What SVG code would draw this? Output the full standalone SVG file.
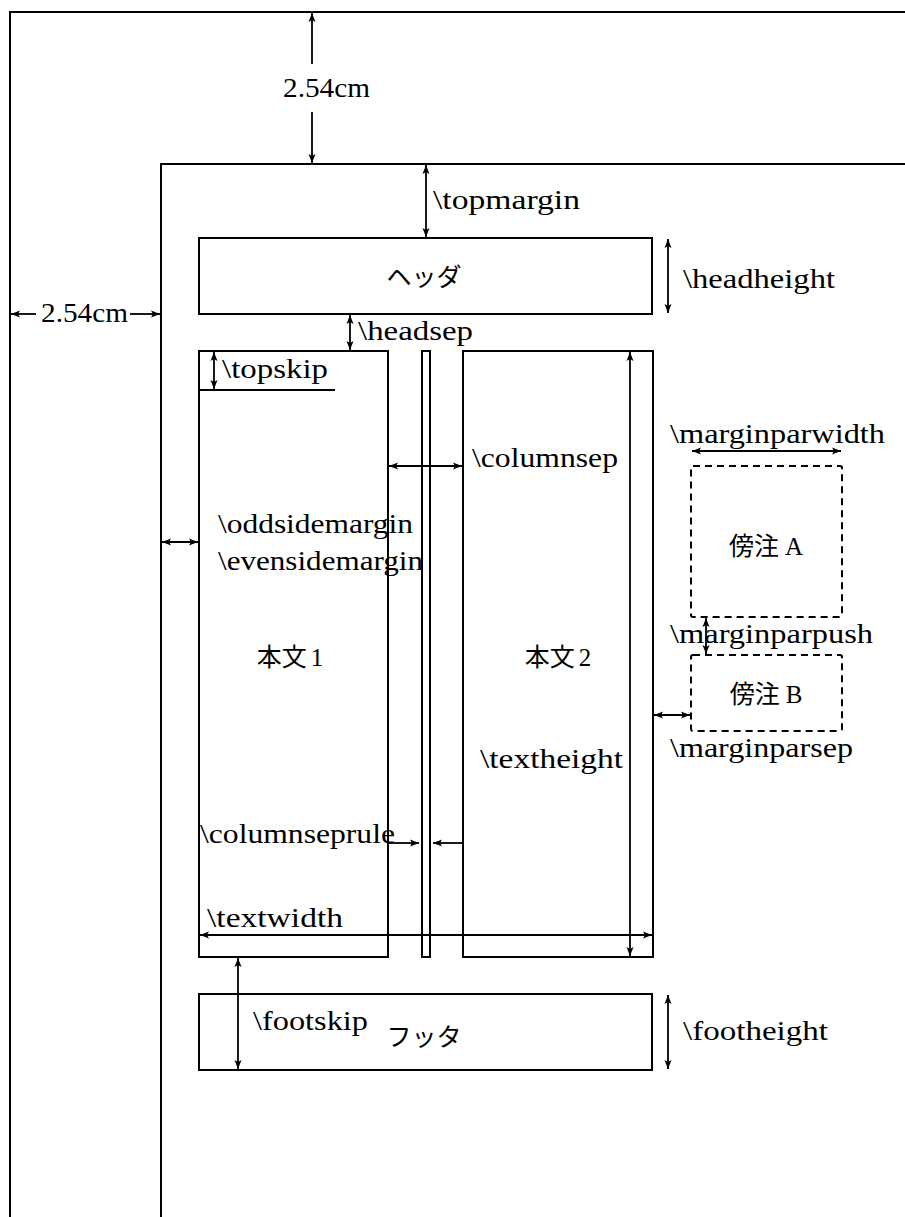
<svg xmlns="http://www.w3.org/2000/svg" width="905" height="1217" viewBox="0 0 905 1217">
<style>
.frame{fill:none;stroke:#000;stroke-width:2}
.box{fill:none;stroke:#000;stroke-width:2}
.dash{fill:none;stroke:#000;stroke-width:2;stroke-dasharray:7,5}
.arr{fill:none;stroke:#000;stroke-width:1.8;marker-start:url(#ah);marker-end:url(#ah)}
.arr1{fill:none;stroke:#000;stroke-width:1.8;marker-end:url(#ah)}
.t{font-family:"Liberation Serif","Noto Sans CJK JP",serif;font-size:28px;fill:#000}
.j{font-family:"Liberation Serif","Noto Sans CJK JP",serif;font-size:25px;fill:#000}
</style>
<defs>
<marker id="ah" markerUnits="userSpaceOnUse" markerWidth="10" markerHeight="8" refX="9" refY="4" orient="auto-start-reverse" viewBox="0 0 10 8">
<path d="M0,0.5 L9,4 L0,7.5 L2,4 z" fill="#000"/>
</marker>
</defs>
<g id="page">
<path class="frame" d="M10,1217 V12 H905"/>
</g>
<g id="margin-area">
<path class="frame" d="M161,1217 V164 H905"/>
</g>
<g id="header">
<rect class="box" x="199" y="238" width="453" height="76"/>
<text class="j" x="424" y="286" text-anchor="middle">ヘッダ</text>
</g>
<g id="column1">
<rect class="box" x="199" y="351" width="189" height="606"/>
<text class="j" x="290" y="666" text-anchor="middle">本文<tspan dx="4">1</tspan></text>
</g>
<g id="columnrule">
<rect class="box" x="422" y="351" width="8" height="606"/>
</g>
<g id="column2">
<rect class="box" x="463" y="351" width="190" height="606"/>
<text class="j" x="558" y="666" text-anchor="middle">本文<tspan dx="4">2</tspan></text>
</g>
<g id="footer">
<rect class="box" x="199" y="994" width="453" height="76"/>
<text class="j" x="424" y="1046" text-anchor="middle">フッタ</text>
</g>
<g id="marginparA">
<rect class="dash" x="691" y="466" width="151" height="151" rx="2"/>
<text class="j" x="766" y="555" text-anchor="middle">傍注<tspan dx="6">A</tspan></text>
</g>
<g id="marginparB">
<rect class="dash" x="691" y="655" width="151" height="76" rx="2"/>
<text class="j" x="766" y="703" text-anchor="middle">傍注<tspan dx="6">B</tspan></text>
</g>
<g id="connectors">
<line class="arr1" x1="312" y1="64" x2="312" y2="13"/>
<line class="arr1" x1="312" y1="112" x2="312" y2="163"/>
<line class="arr1" x1="36" y1="314" x2="11" y2="314"/>
<line class="arr1" x1="130" y1="314" x2="160" y2="314"/>
<line class="arr" x1="426" y1="165" x2="426" y2="237"/>
<line class="arr" x1="668" y1="239" x2="668" y2="313"/>
<line class="arr" x1="350" y1="315" x2="350" y2="350"/>
<line class="arr" x1="214" y1="352" x2="214" y2="389"/>
<line class="frame" x1="199" y1="390" x2="335" y2="390"/>
<line class="arr" x1="389" y1="466" x2="462" y2="466"/>
<line class="arr" x1="162" y1="542" x2="198" y2="542"/>
<line class="arr" x1="630" y1="352" x2="630" y2="956"/>
<line class="arr1" x1="389" y1="843" x2="419" y2="843"/>
<line class="arr1" x1="462" y1="843" x2="433" y2="843"/>
<line class="arr" x1="200" y1="935" x2="652" y2="935"/>
<line class="arr" x1="238" y1="958" x2="238" y2="1069"/>
<line class="arr" x1="668" y1="995" x2="668" y2="1069"/>
<line class="arr" x1="692" y1="451" x2="841" y2="451"/>
<line class="arr" x1="706" y1="618" x2="706" y2="654"/>
<line class="arr" x1="654" y1="715" x2="690" y2="715"/>
</g>
<g id="labels">
<text class="t" x="283" y="97" textLength="87" lengthAdjust="spacingAndGlyphs">2.54cm</text>
<text class="t" x="41" y="322" textLength="87" lengthAdjust="spacingAndGlyphs">2.54cm</text>
<text class="t" x="433" y="209" textLength="147" lengthAdjust="spacingAndGlyphs">\topmargin</text>
<text class="t" x="683" y="288" textLength="152" lengthAdjust="spacingAndGlyphs">\headheight</text>
<text class="t" x="358" y="340" textLength="115" lengthAdjust="spacingAndGlyphs">\headsep</text>
<text class="t" x="222" y="378" textLength="106" lengthAdjust="spacingAndGlyphs">\topskip</text>
<text class="t" x="472" y="467" textLength="146" lengthAdjust="spacingAndGlyphs">\columnsep</text>
<text class="t" x="670" y="443" textLength="215" lengthAdjust="spacingAndGlyphs">\marginparwidth</text>
<text class="t" x="218" y="533" textLength="195" lengthAdjust="spacingAndGlyphs">\oddsidemargin</text>
<text class="t" x="218" y="570" textLength="205" lengthAdjust="spacingAndGlyphs">\evensidemargin</text>
<text class="t" x="670" y="643" textLength="203" lengthAdjust="spacingAndGlyphs">\marginparpush</text>
<text class="t" x="670" y="757" textLength="183" lengthAdjust="spacingAndGlyphs">\marginparsep</text>
<text class="t" x="480" y="768" textLength="143" lengthAdjust="spacingAndGlyphs">\textheight</text>
<text class="t" x="200" y="843" textLength="195" lengthAdjust="spacingAndGlyphs">\columnseprule</text>
<text class="t" x="207" y="927" textLength="136" lengthAdjust="spacingAndGlyphs">\textwidth</text>
<text class="t" x="253" y="1030" textLength="115" lengthAdjust="spacingAndGlyphs">\footskip</text>
<text class="t" x="683" y="1040" textLength="145" lengthAdjust="spacingAndGlyphs">\footheight</text>
</g>
</svg>
